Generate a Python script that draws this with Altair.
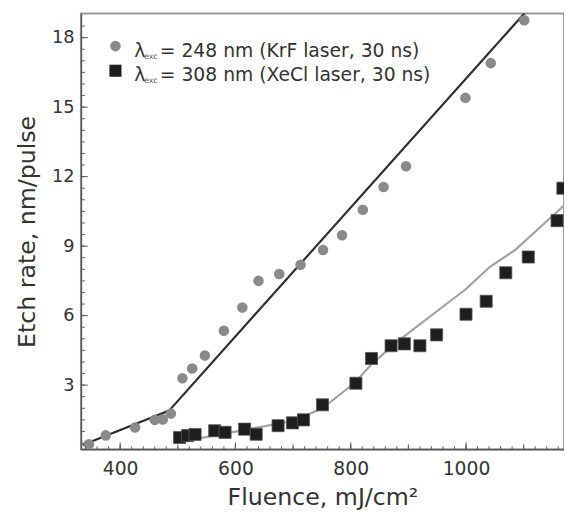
import altair as alt
import pandas as pd

# ---------------- data ----------------
krf_fluence = [346, 375, 426, 460, 474, 488, 508, 525, 547, 580, 612, 640, 676,
               713, 752, 785, 821, 857, 896, 999, 1043, 1101]
krf_rate = [0.45, 0.83, 1.17, 1.5, 1.52, 1.77, 3.3, 3.72, 4.28, 5.35, 6.35, 7.5, 7.8,
            8.2, 8.83, 9.47, 10.57, 11.55, 12.45, 15.4, 16.9, 18.75]

xecl_fluence = [503, 517, 530, 564, 582, 616, 636, 674, 699, 718, 751, 809, 836,
                870, 893, 920, 949, 1000, 1035, 1069, 1108, 1158, 1168]
xecl_rate = [0.74, 0.82, 0.87, 1.03, 0.96, 1.1, 0.88, 1.25, 1.37, 1.5, 2.15, 3.08, 4.15,
             4.7, 4.78, 4.7, 5.17, 6.06, 6.62, 7.85, 8.53, 10.1, 11.5]

krf_fit_fluence = [335, 485, 1112]
krf_fit_rate = [0.42, 1.9, 19.35]

xecl_fit_fluence = [494, 590, 700, 751, 807, 836, 887, 1000, 1041, 1086, 1170]
xecl_fit_rate = [0.5, 0.95, 1.45, 2.0, 3.1, 3.9, 5.0, 7.15, 8.1, 8.85, 10.75]

x_tick_labels = [400, 600, 800, 1000]
y_tick_labels = [3, 6, 9, 12, 15, 18]
x_minor_ticks = list(range(340, 1170, 20))
x_major_ticks = list(range(400, 1170, 100))
y_minor_ticks = [v / 2 for v in range(1, 38)]
y_major_ticks = y_tick_labels

legend_symbol = "λ"
legend_sub = "exc"
legend_labels = ["= 248 nm (KrF laser, 30 ns)", "= 308 nm (XeCl laser, 30 ns)"]

# ---------------- styling ----------------
W, H = 490, 442
X_DOMAIN = [332, 1170]
Y_DOMAIN = [0.23, 19.04]
FONT = "DejaVu Sans"
CIRCLE_C = "#8a8a8a"
SQUARE_C = "#1e1e1e"
KRF_LINE_C = "#2e2e2e"
XECL_LINE_C = "#a3a3a3"
AXIS_C = "#5a5a5a"

xs = alt.Scale(domain=X_DOMAIN, nice=False, zero=False)
ys = alt.Scale(domain=Y_DOMAIN, nice=False, zero=False)

x_axis = alt.Axis(values=x_tick_labels, format="d", title="Fluence, mJ/cm²", ticks=False,
                  tickSize=0, labelFont=FONT, labelFontSize=19, labelColor="#333333",
                  labelPadding=11, titleFont=FONT, titleFontSize=24, titleFontWeight="normal",
                  titleColor="#333333", titlePadding=7, domainColor=AXIS_C,
                  domainWidth=1.5, grid=False, labelFlush=False)
y_axis = alt.Axis(values=y_tick_labels, format="d", title="Etch rate, nm/pulse", ticks=False,
                  tickSize=0, labelFont=FONT, labelFontSize=18, labelColor="#333333",
                  labelPadding=7, titleFont=FONT, titleFontSize=24, titleFontWeight="normal",
                  titleColor="#333333", titlePadding=12, domainColor=AXIS_C,
                  domainWidth=1.5, grid=False, labelFlush=False)

krf = pd.DataFrame({"fluence": krf_fluence, "rate": krf_rate})
xecl = pd.DataFrame({"fluence": xecl_fluence, "rate": xecl_rate})
krf_fit = pd.DataFrame({"fluence": krf_fit_fluence, "rate": krf_fit_rate})
xecl_fit = pd.DataFrame({"fluence": xecl_fit_fluence, "rate": xecl_fit_rate})

enc_x = alt.X("fluence:Q", scale=xs, axis=x_axis)
enc_y = alt.Y("rate:Q", scale=ys, axis=y_axis)

krf_line = alt.Chart(krf_fit).mark_line(color=KRF_LINE_C, strokeWidth=2.2, clip=True).encode(
    x=enc_x, y=enc_y)
xecl_line = alt.Chart(xecl_fit).mark_line(color=XECL_LINE_C, strokeWidth=2.2, clip=True).encode(
    x=enc_x, y=enc_y)
circles = alt.Chart(krf).mark_point(shape="circle", filled=True, size=115, color=CIRCLE_C,
                                    opacity=1, clip=True).encode(x=enc_x, y=enc_y)
squares = alt.Chart(xecl).mark_square(size=150, color=SQUARE_C, opacity=1, stroke="#555555",
                                      strokeWidth=0.8, clip=True).encode(x=enc_x, y=enc_y)

# inward axis ticks
def xticks(vals, length):
    return alt.Chart(pd.DataFrame({"fluence": vals})).mark_rule(color=AXIS_C, strokeWidth=1).encode(
        x=enc_x, y=alt.value(H), y2=alt.value(H - length))

def yticks(vals, length):
    return alt.Chart(pd.DataFrame({"rate": vals})).mark_rule(color=AXIS_C, strokeWidth=1).encode(
        y=enc_y, x=alt.value(0), x2=alt.value(length))

tick_layers = [xticks(x_minor_ticks, 3), xticks(x_major_ticks, 5), xticks(x_tick_labels, 7),
               yticks(y_minor_ticks, 4), yticks(y_major_ticks, 7)]

# legend (drawn inside the plot, top-left)
legend_layers = []
row_marker_y = [33, 58]
row_text_y = [38, 62]
for i, label in enumerate(legend_labels):
    df = pd.DataFrame({"label": [label]})
    if i == 0:
        mk = alt.Chart(df).mark_point(shape="circle", filled=True, size=115, color=CIRCLE_C,
                                      opacity=1)
    else:
        mk = alt.Chart(df).mark_square(size=150, color=SQUARE_C, opacity=1)
    legend_layers.append(mk.encode(x=alt.value(35), y=alt.value(row_marker_y[i])))
    legend_layers.append(alt.Chart(df).mark_text(
        text=legend_symbol, font=FONT, fontSize=19, color="#333333", align="left",
        baseline="middle").encode(x=alt.value(54), y=alt.value(row_text_y[i])))
    legend_layers.append(alt.Chart(df).mark_text(
        text=legend_sub, font=FONT, fontSize=8, color="#555555", align="left",
        baseline="middle").encode(x=alt.value(64), y=alt.value(row_text_y[i] + 6)))
    legend_layers.append(alt.Chart(df).mark_text(
        font=FONT, fontSize=19, color="#333333", align="left", baseline="middle").encode(
        x=alt.value(80), y=alt.value(row_text_y[i]), text="label:N"))

chart = alt.layer(krf_line, xecl_line, circles, squares, *tick_layers, *legend_layers).properties(
    width=W, height=H, autosize="none",
    padding={"left": 74, "top": 2, "right": 0, "bottom": 62},
    background="white",
).configure_view(stroke="#9a9a9a", strokeWidth=2)

chart.save("out.html", embed_options={"renderer": "svg", "actions": False})
